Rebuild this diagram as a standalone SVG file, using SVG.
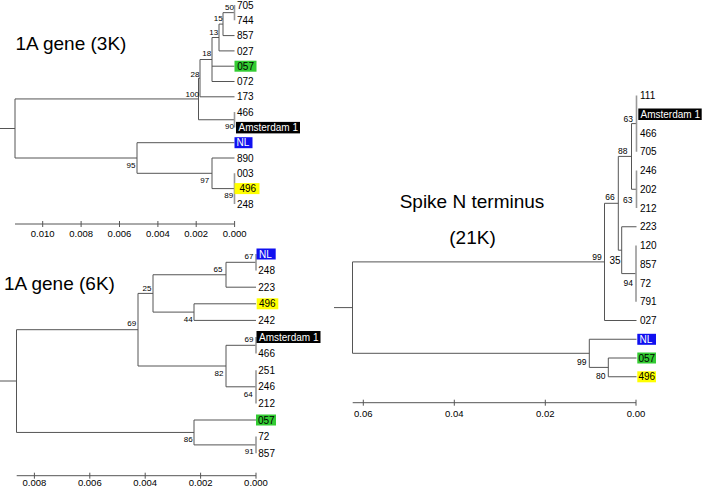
<svg xmlns="http://www.w3.org/2000/svg" width="703" height="488" viewBox="0 0 703 488">
<style>
text{font-family:"Liberation Sans",Arial,sans-serif;fill:#000}
.lf{font-size:10px}
.bs{font-size:8px;text-anchor:middle}
.bs2{font-size:8.5px;text-anchor:middle}
.ax{font-size:9.5px;text-anchor:middle}
.tt{font-size:19px}
.br{fill:none;stroke:#555;stroke-width:1}
.z{fill:none;stroke:#999;stroke-width:1.6}
.wt{fill:#fff}
</style>
<rect width="703" height="488" fill="#fff"/>
<g id="titles">
<text class="tt" x="15.5" y="50">1A gene (3K)</text>
<text class="tt" x="4" y="289.5">1A gene (6K)</text>
<text class="tt" x="472" y="208" text-anchor="middle">Spike N terminus</text>
<text class="tt" x="472.5" y="244" text-anchor="middle">(21K)</text>
</g>
<g id="connectors">
<!-- 3K tree -->
<path class="br" d="M198.5 98.95 H15 V158 H137 M0 128.5 H15"/>
<path class="br" d="M200 78.15 H198.5 V119.75 H234.5"/>
<path class="br" d="M212 59.5 H200 V96.8 H234.5"/>
<path class="br" d="M219 37.5 H212 V81.5 H234.5 M212 66.2 H234.5"/>
<path class="br" d="M223 24.1 H219 V50.9 H234.5"/>
<path class="br" d="M234.5 12.65 H223 V35.6 H234.5"/>
<path class="br" d="M234.5 142.7 H137 V173.3 H212"/>
<path class="br" d="M234.5 158 H212 V188.6 H234.5"/>
<path class="z" d="M234.5 5 V20.3 M234.5 112.1 V127.4 M234.5 173.3 V203.9"/>
<!-- 6K tree -->
<path class="br" d="M138 329.7 H16.5 V432.45 H194 M0 381 H16.5"/>
<path class="br" d="M153 293.4 H138 V366 H226"/>
<path class="br" d="M226 274.75 H153 V312.1 H194"/>
<path class="br" d="M256 262.3 H226 V287.2 H256"/>
<path class="br" d="M256 303.8 H194 V320.4 H256"/>
<path class="br" d="M256 345.3 H226 V386.8 H256"/>
<path class="br" d="M256 420 H194 V444.9 H256"/>
<path class="z" d="M256 254 V270.6 M256 337 V353.6 M256 370.2 V403.4 M256 436.6 V453.2"/>
<!-- Spike tree -->
<path class="br" d="M604.5 261.9 H352.5 V353.3 H589.3 M334 307.6 H352.5"/>
<path class="br" d="M618.3 203.3 H604.5 V320.5 H636.5"/>
<path class="br" d="M631.5 156.4 H618.3 V250.2 H621.7"/>
<path class="br" d="M636.5 123.6 H631.5 V189.25 H636.5"/>
<path class="br" d="M636.5 226.75 H621.7 V273.6 H636"/>
<path class="br" d="M636.5 339.25 H589.3 V367.4 H608.3"/>
<path class="br" d="M636.5 358 H608.3 V376.75 H636.5"/>
<path class="z" d="M636.5 95.5 V151.75 M636.5 170.5 V208 M636 245.5 V301.75"/>
</g>
<g id="axes">
<path class="br" d="M15 224 H234.6 M42.7 221 V227 M81.1 221 V227 M119.5 221 V227 M157.9 221 V227 M196.2 221 V227 M234.6 221 V227"/>
<text class="ax" x="42.7" y="237">0.010</text>
<text class="ax" x="81.1" y="237">0.008</text>
<text class="ax" x="119.5" y="237">0.006</text>
<text class="ax" x="157.9" y="237">0.004</text>
<text class="ax" x="196.2" y="237">0.002</text>
<text class="ax" x="234.6" y="237">0.000</text>
<path class="br" d="M16.7 475.7 H256 M34.4 472.7 V478.7 M89.8 472.7 V478.7 M145.2 472.7 V478.7 M200.6 472.7 V478.7 M256 472.7 V478.7"/>
<text class="ax" x="34.4" y="486.3">0.008</text>
<text class="ax" x="89.8" y="486.3">0.006</text>
<text class="ax" x="145.2" y="486.3">0.004</text>
<text class="ax" x="200.6" y="486.3">0.002</text>
<text class="ax" x="256" y="486.3">0.000</text>
<path class="br" d="M352.7 402.7 H636 M363.3 399.7 V405.7 M454.3 399.7 V405.7 M545.3 399.7 V405.7 M636 399.7 V405.7"/>
<text class="ax" x="363.3" y="416.7">0.06</text>
<text class="ax" x="454.3" y="416.7">0.04</text>
<text class="ax" x="545.3" y="416.7">0.02</text>
<text class="ax" x="636" y="416.7">0.00</text>
</g>
<g id="bootstrap">
<text class="bs" x="229.5" y="9.5">50</text>
<text class="bs" x="218.3" y="21">15</text>
<text class="bs" x="213.7" y="35">13</text>
<text class="bs" x="206.7" y="56">18</text>
<text class="bs" x="195" y="77">28</text>
<text class="bs" x="192.2" y="97">100</text>
<text class="bs" x="229.5" y="128.5">90</text>
<text class="bs" x="131" y="168">95</text>
<text class="bs" x="204.7" y="183">97</text>
<text class="bs" x="228.7" y="198">89</text>
<text class="bs" x="249" y="258.5">67</text>
<text class="bs" x="218" y="272">65</text>
<text class="bs" x="147" y="290.5">25</text>
<text class="bs" x="188.3" y="322">44</text>
<text class="bs" x="249" y="342">69</text>
<text class="bs" x="131.7" y="325.5">69</text>
<text class="bs" x="219" y="375.5">82</text>
<text class="bs" x="248.3" y="397">64</text>
<text class="bs" x="188.3" y="442">86</text>
<text class="bs" x="249.3" y="454">91</text>
<text class="bs2" x="628.3" y="122">63</text>
<text class="bs2" x="622.7" y="154">88</text>
<text class="bs2" x="610" y="200">66</text>
<text class="bs2" x="627.7" y="203">63</text>
<text class="bs2" x="597" y="259.5">99</text>
<text class="bs2" x="615" y="263.5" style="font-size:10px">35</text>
<text class="bs2" x="628.3" y="286">94</text>
<text class="bs2" x="581.7" y="365">99</text>
<text class="bs2" x="600.7" y="379">80</text>
</g>
<!-- 3K leaves -->
<g id="t3-705"><text class="lf" x="237" y="8.6">705</text></g>
<g id="t3-744"><text class="lf" x="237" y="23.9">744</text></g>
<g id="t3-857"><text class="lf" x="237" y="39.2">857</text></g>
<g id="t3-027"><text class="lf" x="237" y="54.5">027</text></g>
<g id="t3-057"><rect x="234.5" y="60.7" width="22" height="11" fill="#33cc33"/><text class="lf" x="237.3" y="69.8">057</text></g>
<g id="t3-072"><text class="lf" x="237" y="85.1">072</text></g>
<g id="t3-173"><text class="lf" x="237" y="100.4">173</text></g>
<g id="t3-466"><text class="lf" x="237" y="115.7">466</text></g>
<g id="t3-ams"><rect x="236" y="121.9" width="64" height="11.5" fill="#000"/><text class="lf wt" x="238.5" y="131">Amsterdam 1</text></g>
<g id="t3-nl"><rect x="234.5" y="137.2" width="18" height="11" fill="#1010f0"/><text class="lf wt" x="236.5" y="146.3">NL</text></g>
<g id="t3-890"><text class="lf" x="237" y="161.6">890</text></g>
<g id="t3-003"><text class="lf" x="237" y="176.9">003</text></g>
<g id="t3-496"><rect x="234.5" y="183.1" width="25" height="11" fill="#ffff00"/><text class="lf" x="239.5" y="192.2">496</text></g>
<g id="t3-248"><text class="lf" x="237" y="207.5">248</text></g>
<!-- 6K leaves -->
<g id="t6-nl"><rect x="256.5" y="248.5" width="19.2" height="11" fill="#1010f0"/><text class="lf wt" x="259" y="257.6">NL</text></g>
<g id="t6-248"><text class="lf" x="258.3" y="274.2">248</text></g>
<g id="t6-223"><text class="lf" x="258.3" y="290.8">223</text></g>
<g id="t6-496"><rect x="256.7" y="298.3" width="21.6" height="11" fill="#ffff00"/><text class="lf" x="259" y="307.4">496</text></g>
<g id="t6-242"><text class="lf" x="258.3" y="324">242</text></g>
<g id="t6-ams"><rect x="256.5" y="331" width="64" height="12" fill="#000"/><text class="lf wt" x="259" y="340.6">Amsterdam 1</text></g>
<g id="t6-466"><text class="lf" x="258.3" y="357.2">466</text></g>
<g id="t6-251"><text class="lf" x="258.3" y="373.8">251</text></g>
<g id="t6-246"><text class="lf" x="258.3" y="390.4">246</text></g>
<g id="t6-212"><text class="lf" x="258.3" y="407">212</text></g>
<g id="t6-057"><rect x="256" y="414.5" width="20" height="11" fill="#33cc33"/><text class="lf" x="258" y="423.6">057</text></g>
<g id="t6-72"><text class="lf" x="258.3" y="440.2">72</text></g>
<g id="t6-857"><text class="lf" x="258.3" y="456.8">857</text></g>
<!-- Spike leaves -->
<g id="s-111"><text class="lf" x="640" y="99.1">111</text></g>
<g id="s-ams"><rect x="638.3" y="108.5" width="63.4" height="11.5" fill="#000"/><text class="lf wt" x="640.5" y="117.9">Amsterdam 1</text></g>
<g id="s-466"><text class="lf" x="640" y="136.6">466</text></g>
<g id="s-705"><text class="lf" x="640" y="155.4">705</text></g>
<g id="s-246"><text class="lf" x="640" y="174.1">246</text></g>
<g id="s-202"><text class="lf" x="640" y="192.9">202</text></g>
<g id="s-212"><text class="lf" x="640" y="211.6">212</text></g>
<g id="s-223"><text class="lf" x="640" y="230.4">223</text></g>
<g id="s-120"><text class="lf" x="640" y="249.1">120</text></g>
<g id="s-857"><text class="lf" x="640" y="267.9">857</text></g>
<g id="s-72"><text class="lf" x="640" y="286.6">72</text></g>
<g id="s-791"><text class="lf" x="640" y="305.4">791</text></g>
<g id="s-027"><text class="lf" x="640" y="324.1">027</text></g>
<g id="s-nl"><rect x="637.3" y="333.8" width="18.7" height="11" fill="#1010f0"/><text class="lf wt" x="639.5" y="342.9">NL</text></g>
<g id="s-057"><rect x="637.3" y="352.5" width="18.7" height="11" fill="#33cc33"/><text class="lf" x="638.5" y="361.6">057</text></g>
<g id="s-496"><rect x="637.3" y="371.3" width="18.7" height="11" fill="#ffff00"/><text class="lf" x="638.5" y="380.4">496</text></g>
</svg>
